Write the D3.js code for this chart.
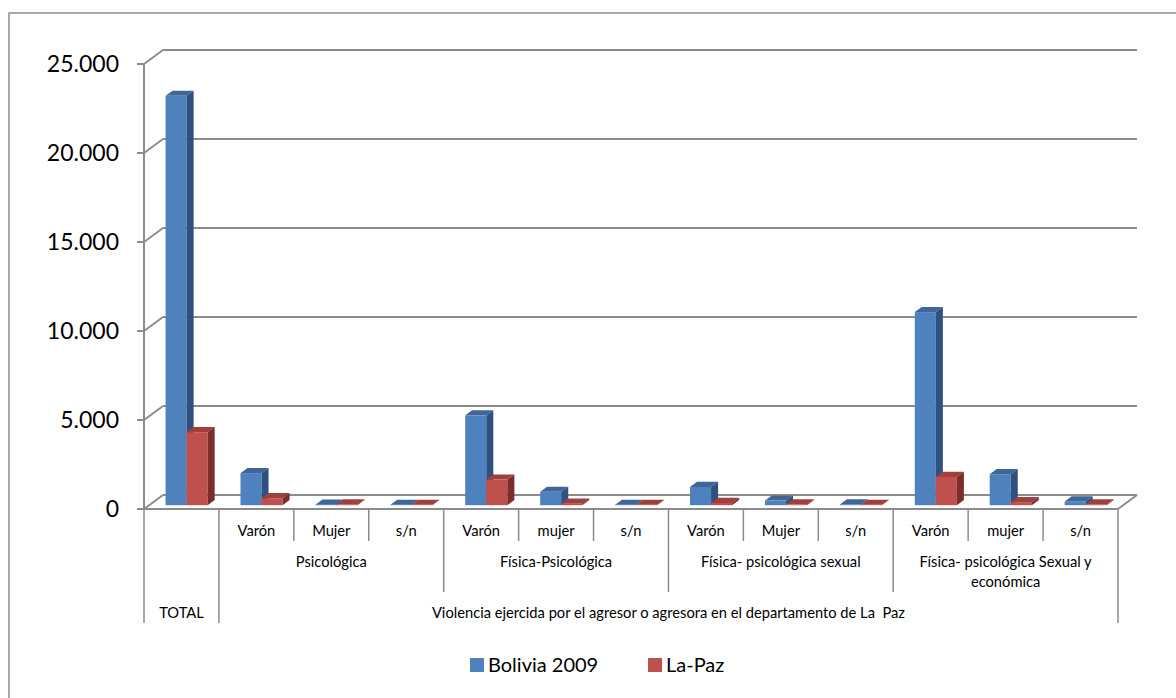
<!DOCTYPE html>
<html>
<head>
<meta charset="utf-8">
<script src="https://cdn.jsdelivr.net/npm/d3@7"></script>
<style>
  body { margin: 0; background: #fff; }
  text { font-family: Lato, "Open Sans", sans-serif; fill: #000; }
</style>
</head>
<body>
<div id="chart"></div>
<script>
// data
const subLabels = ["", "Varón", "Mujer", "s/n", "Varón", "mujer", "s/n", "Varón", "Mujer", "s/n", "Varón", "mujer", "s/n"];
const groupLabels = [
  ["Psicológica"],
  ["Física-Psicológica"],
  ["Física- psicológica sexual"],
  ["Física- psicológica Sexual y", "económica"]
];
const topLabels = ["TOTAL", "Violencia ejercida por el agresor o agresora en el departamento de La  Paz"];
const seriesNames = ["Bolivia 2009", "La-Paz"];
const bolivia = [23000, 1800, 30, 20, 5050, 750, 20, 1030, 260, 40, 10850, 1740, 210];
const laPaz = [4100, 390, 40, 20, 1440, 80, 20, 130, 50, 20, 1590, 170, 40];
const yTicks = [0, 5000, 10000, 15000, 20000, 25000];

const width = 1176, height = 698;
const plot = { left: 144, right: 1118, bottom: 509, top: 64 };
const depth = { dx: 19, dy: -14 };
const t1 = 0.27, t2 = 0.64; // bar front/back plane inside the depth
const gridColor = "#8c8c8c";
const catFont = "14.7px";

const colors = [
  { front: "#4f81bd", top: "#3e6698", side: "#2f5080" },
  { front: "#c0504d", top: "#a0403d", side: "#7d2d2b" }
];

const svg = d3.select("#chart").append("svg")
  .attr("width", width)
  .attr("height", height);

// outer border (cut off at the right and bottom)
svg.append("rect")
  .attr("x", 9).attr("y", 13)
  .attr("width", 1300).attr("height", 1000)
  .attr("fill", "none")
  .attr("stroke", gridColor)
  .attr("stroke-width", 1.5);

const yScale = d3.scaleLinear()
  .domain([0, 25000])
  .range([plot.bottom, plot.top]);

const xScale = d3.scaleBand()
  .domain(d3.range(subLabels.length))
  .range([plot.left, plot.right]);

const seriesScale = d3.scaleBand()
  .domain([0, 1])
  .range([0, xScale.bandwidth()])
  .paddingInner(0)
  .paddingOuter(0.78);

// side wall and back wall gridlines
yTicks.forEach(v => {
  const y = yScale(v);
  svg.append("line")
    .attr("x1", plot.left).attr("y1", y)
    .attr("x2", plot.left + depth.dx).attr("y2", y + depth.dy)
    .attr("stroke", gridColor).attr("stroke-width", 2);
  svg.append("line")
    .attr("x1", plot.left + depth.dx).attr("y1", y + depth.dy)
    .attr("x2", plot.right + depth.dx).attr("y2", y + depth.dy)
    .attr("stroke", gridColor).attr("stroke-width", 2);
  svg.append("line")
    .attr("x1", plot.left - 7).attr("y1", y)
    .attr("x2", plot.left).attr("y2", y)
    .attr("stroke", gridColor).attr("stroke-width", 2);
  svg.append("text")
    .attr("x", 119)
    .attr("y", y)
    .attr("dy", "0.35em")
    .attr("text-anchor", "end")
    .style("font-size", "23px")
    .text(d3.format(",")(v).replace(/,/g, "."));
});

// floor right edge
svg.append("line")
  .attr("x1", plot.right).attr("y1", plot.bottom)
  .attr("x2", plot.right + depth.dx).attr("y2", plot.bottom + depth.dy)
  .attr("stroke", gridColor).attr("stroke-width", 2);

// bars, drawn left to right
const ddx = (t2 - t1) * depth.dx, ddy = (t2 - t1) * depth.dy;
const values = [bolivia, laPaz];
subLabels.forEach((_, i) => {
  values.forEach((series, s) => {
    const fx = xScale(i) + seriesScale(s) + t1 * depth.dx;
    const w = seriesScale.bandwidth();
    const y0 = yScale(0) + t1 * depth.dy;
    const y1 = yScale(series[i]) + t1 * depth.dy;
    const c = colors[s];
    svg.append("rect")
      .attr("x", fx).attr("y", y1)
      .attr("width", w).attr("height", y0 - y1)
      .attr("fill", c.front);
    svg.append("polygon")
      .attr("points", [[fx, y1], [fx + w, y1], [fx + w + ddx, y1 + ddy], [fx + ddx, y1 + ddy]].join(" "))
      .attr("fill", c.top);
    svg.append("polygon")
      .attr("points", [[fx + w, y1], [fx + w + ddx, y1 + ddy], [fx + w + ddx, y0 + ddy], [fx + w, y0]].join(" "))
      .attr("fill", c.side);
  });
});

// front axes
svg.append("line")
  .attr("x1", plot.left).attr("y1", plot.bottom)
  .attr("x2", plot.right).attr("y2", plot.bottom)
  .attr("stroke", gridColor).attr("stroke-width", 2);
svg.append("line")
  .attr("x1", plot.left).attr("y1", yScale(25000))
  .attr("x2", plot.left).attr("y2", plot.bottom)
  .attr("stroke", gridColor).attr("stroke-width", 2);

// multi-level category axis dividers
const step = xScale.step();
d3.range(subLabels.length + 1).forEach(i => {
  let len = 541;
  if (i === 0 || i === 1 || i === subLabels.length) len = 623;
  else if ((i - 1) % 3 === 0) len = 592;
  svg.append("line")
    .attr("x1", plot.left + i * step).attr("y1", plot.bottom)
    .attr("x2", plot.left + i * step).attr("y2", len)
    .attr("stroke", gridColor).attr("stroke-width", 1.5);
});

// level 1 labels
subLabels.forEach((d, i) => {
  svg.append("text")
    .attr("x", xScale(i) + step / 2)
    .attr("y", 531)
    .attr("dy", "0.35em")
    .attr("text-anchor", "middle")
    .style("font-size", catFont)
    .text(d);
});

// level 2 labels
groupLabels.forEach((lines, g) => {
  const cx = plot.left + (1 + g * 3 + 1.5) * step;
  lines.forEach((line, k) => {
    svg.append("text")
      .attr("x", cx)
      .attr("y", 562 + k * 20)
      .attr("dy", "0.35em")
      .attr("text-anchor", "middle")
      .style("font-size", catFont)
      .text(line);
  });
});

// level 3 labels
svg.append("text")
  .attr("x", plot.left + step / 2)
  .attr("y", 613)
  .attr("dy", "0.35em")
  .attr("text-anchor", "middle")
  .style("font-size", catFont)
  .text(topLabels[0]);
svg.append("text")
  .attr("x", (plot.left + step + plot.right) / 2)
  .attr("y", 613)
  .attr("dy", "0.35em")
  .attr("text-anchor", "middle")
  .attr("xml:space", "preserve")
  .style("white-space", "pre")
  .style("font-size", catFont)
  .text(topLabels[1]);

// legend
const legendX = [470, 648];
seriesNames.forEach((name, s) => {
  svg.append("rect")
    .attr("x", legendX[s]).attr("y", 658)
    .attr("width", 14).attr("height", 14)
    .attr("fill", colors[s].front);
  svg.append("text")
    .attr("x", legendX[s] + 18)
    .attr("y", 665)
    .attr("dy", "0.35em")
    .style("font-size", "20px")
    .text(name);
});
</script>
</body>
</html>
